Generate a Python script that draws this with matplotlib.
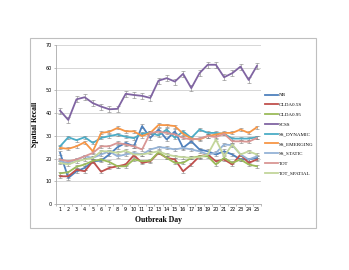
import matplotlib
matplotlib.use("Agg")
import matplotlib.pyplot as plt
import matplotlib.patches as mpatches
from matplotlib.lines import Line2D
import numpy as np

days = list(range(1, 26))

nb = [22.5, 11.5, 14.4, 15.9, 18.8, 19.1, 21.8, 25.0, 26.9, 25.4, 34.3, 29.1, 32.8,
      28.4, 32.0, 24.7, 27.6, 24.0, 23.2, 21.8, 23.2, 21.8, 19.6, 19.6, 20.3]
olda_05 = [12.2, 12.2, 15.1, 14.4, 18.8, 14.2, 15.9, 16.6, 17.4, 21.5, 18.1, 18.8, 22.5,
           20.3, 19.6, 14.4, 17.4, 21.0, 21.8, 18.8, 19.6, 17.4, 21.8, 18.1, 19.6]
olda_095 = [13.5, 14.0, 16.4, 17.4, 19.0, 19.6, 18.5, 16.6, 16.6, 19.6, 18.8, 19.1, 22.8,
            20.3, 18.1, 18.1, 20.3, 21.0, 21.0, 17.4, 20.3, 18.1, 19.6, 17.4, 16.6]
scss = [41.1, 37.0, 46.1, 47.0, 44.4, 42.9, 41.7, 41.9, 48.5, 48.0, 47.6, 46.7, 54.3,
        55.4, 53.9, 57.3, 51.0, 57.6, 61.3, 61.3, 55.8, 57.6, 60.5, 54.6, 60.8]
ss_dynamic = [25.4, 29.4, 28.1, 29.4, 26.9, 29.1, 29.9, 30.6, 29.6, 29.0, 31.0, 31.3, 30.2,
              32.8, 29.1, 32.0, 29.1, 32.8, 31.3, 31.3, 30.9, 28.8, 28.8, 28.8, 29.4]
ss_emerging = [24.7, 24.3, 25.4, 27.2, 23.2, 31.3, 31.8, 33.5, 32.0, 32.0, 29.9, 31.3, 34.8,
               34.7, 34.3, 30.9, 28.8, 28.4, 29.9, 30.6, 31.3, 31.3, 32.8, 31.3, 33.8]
ss_static = [18.8, 18.1, 19.6, 21.0, 20.3, 21.8, 23.2, 21.0, 21.8, 22.5, 21.8, 24.0, 25.0,
             24.7, 24.0, 24.7, 24.0, 23.2, 21.8, 22.5, 26.2, 25.9, 21.8, 19.6, 21.0]
tot = [19.6, 18.8, 19.6, 21.0, 22.5, 25.4, 25.4, 26.9, 26.2, 25.4, 24.0, 31.3, 31.8,
       31.3, 30.6, 29.1, 28.4, 28.8, 29.9, 29.5, 30.9, 27.6, 27.6, 27.4, 29.1]
tot_spatial = [18.1, 17.4, 18.8, 19.6, 20.3, 23.2, 23.2, 22.5, 23.5, 21.8, 21.8, 22.5, 23.2,
               21.8, 21.0, 20.6, 20.3, 20.6, 21.8, 28.4, 21.0, 26.2, 21.8, 23.2, 21.8]

series_names = ["NB", "OLDA0.5S", "OLDA0.95", "SCSS", "SS_DYNAMIC",
                "SS_EMERGING", "SS_STATIC", "TOT", "TOT_SPATIAL"]
series_values = [nb, olda_05, olda_095, scss, ss_dynamic,
                 ss_emerging, ss_static, tot, tot_spatial]
series_err = [0.8, 0.7, 0.7, 1.3, 0.7, 0.7, 0.7, 0.7, 0.7]
colors = ["#4F81BD", "#C0504D", "#9BBB59", "#8064A2", "#4BACC6",
          "#F79646", "#95B3D7", "#D99694", "#C3D69B"]

fig = plt.figure(figsize=(3.49, 2.70), dpi=100)
# chart area border
fig.patches.append(mpatches.Rectangle((30 / 349, 1 - 228 / 270), 286 / 349, 190 / 270,
                                      transform=fig.transFigure, fill=False,
                                      edgecolor="#bfbfbf", linewidth=0.8))

ax = fig.add_axes([56 / 349, 1 - 204 / 270, 205 / 349, 159 / 270])
handles = []
for name, vals, err, c in zip(series_names, series_values, series_err, colors):
    ax.errorbar(days, vals, yerr=err, color=c, linewidth=1.3,
                ecolor="#7f7f7f", elinewidth=0.4, capsize=1.2, capthick=0.4, zorder=3)
    handles.append(Line2D([], [], color=c, linewidth=1.3, label=name))

ax.set_xlim(0.5, 25.5)
ax.set_ylim(0, 70)
ax.set_yticks(np.arange(0, 71, 10))
ax.set_xticks(days)
ax.set_xticks(np.arange(0.5, 26, 1), minor=True)
ax.tick_params(axis="x", which="major", length=0, labelsize=3.5, pad=2)
ax.tick_params(axis="x", which="minor", length=1.5, width=0.4, color="#888888")
ax.tick_params(axis="y", length=1.5, width=0.4, color="#888888", labelsize=3.5, pad=1.5)
ax.grid(axis="y", color="#d0d0d0", linewidth=0.6, zorder=0)
for s in ["top", "right"]:
    ax.spines[s].set_visible(False)
for s in ["left", "bottom"]:
    ax.spines[s].set_color("#aaaaaa")
    ax.spines[s].set_linewidth(0.6)

ax.set_xlabel("Outbreak Day", fontsize=5.5, fontweight="bold",
              family="Liberation Serif", labelpad=3)
ax.set_ylabel("Spatial Recall", fontsize=5.5, fontweight="bold",
              family="Liberation Serif", labelpad=5)

ax.legend(handles=handles, loc="center left", bbox_to_anchor=(1.0, 0.44),
          frameon=False, prop={"family": "Liberation Serif", "size": 3.6},
          handlelength=2.6, handletextpad=0.3, labelspacing=1.05,
          borderaxespad=0.3)

fig.savefig("out.png", dpi=100)
